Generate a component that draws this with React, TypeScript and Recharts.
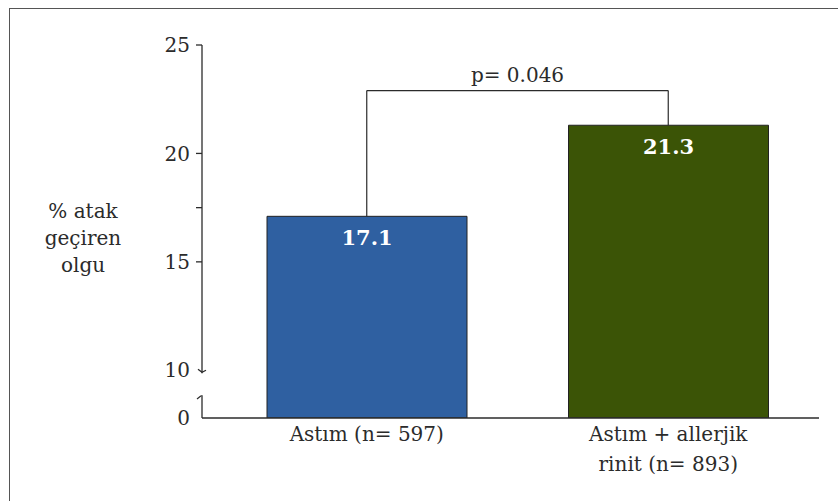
import { BarChart, Bar, XAxis, YAxis, Cell, LabelList, ReferenceLine } from 'recharts'

const categories = ['Astım (n= 597)', 'Astım + allerjik rinit (n= 893)']
const categoryLines = [['Astım (n= 597)'], ['Astım + allerjik', 'rinit (n= 893)']]
const attackRates = [17.1, 21.3]
const barColors = ['#2f60a1', '#3b5406']

// axis is broken below 10; the floor value is shown as "0"
const axisFloor = 7.8
const yTicks = [axisFloor, 10, 15, 17.5, 20, 25]
const yTickLabels = ['0', '10', '15', '', '20', '25']
const yTicksWithMark = [15, 17.5, 20, 25]
const yAxisTitle = ['% atak', 'geçiren', 'olgu']

const pValueLabel = 'p= 0.046'
const bracketTop = 22.9

const font = "'DejaVu Serif', serif"
const ink = '#2b2b2b'

const data = categories.map((name, i) => ({ name, value: attackRates[i] }))

function YTick(props: any) {
  const { x, y, payload, index } = props
  const v = payload.value
  const axisX = x + 12
  return (
    <g>
      {v === 10 && (
        <g>
          {/* gap in the axis line for the break */}
          <rect x={axisX - 4} y={y + 3} width={8} height={22} fill="#fff" />
          <path d={`M${axisX - 4},${y - 1} L${axisX},${y + 2} L${axisX + 4},${y}`} stroke={ink} fill="none" strokeWidth={1.3} />
        </g>
      )}
      {v === axisFloor && (
        <path d={`M${axisX - 5},${y - 19} L${axisX},${y - 23}`} stroke={ink} strokeWidth={1.3} />
      )}
      {yTicksWithMark.includes(v) && (
        <line x1={axisX - 6} y1={y} x2={axisX} y2={y} stroke={ink} strokeWidth={1.3} />
      )}
      <text x={x} y={y} dy="0.36em" textAnchor="end" fill={ink} fontSize={20} fontFamily={font}>
        {yTickLabels[index]}
      </text>
    </g>
  )
}

function XTick(props: any) {
  const { x, y, index } = props
  const lines = categoryLines[index] || []
  return (
    <text x={x} y={y} textAnchor="middle" fill={ink} fontSize={20} fontFamily={font}>
      {lines.map((line, i) => (
        <tspan key={i} x={x} dy={i === 0 ? '0.75em' : 30}>
          {line}
        </tspan>
      ))}
    </text>
  )
}

function YTitle(props: any) {
  const { viewBox } = props
  const cx = viewBox.x + 83
  return (
    <text x={cx} y={211} textAnchor="middle" fill={ink} fontSize={20} fontFamily={font}>
      {yAxisTitle.map((line, i) => (
        <tspan key={i} x={cx} dy={i === 0 ? '0.36em' : 27}>
          {line}
        </tspan>
      ))}
    </text>
  )
}

export default function App() {
  return (
    <div style={{ position: 'absolute', left: 0, top: 0, width: 838, height: 501, background: '#fff' }}>
      <div
        style={{
          position: 'absolute',
          left: 9,
          top: 8,
          width: 829,
          height: 493,
          borderTop: '1.5px solid #555',
          borderLeft: '1.5px solid #555',
        }}
      />
      <BarChart
        width={838}
        height={501}
        data={data}
        margin={{ top: 45, right: 19, bottom: 53, left: 0 }}
        style={{ position: 'absolute', left: 0, top: 0 }}
      >
        <XAxis
          dataKey="name"
          type="category"
          height={30}
          padding={{ left: 14, right: 0 }}
          tickLine={false}
          axisLine={{ stroke: ink, strokeWidth: 1.3 }}
          tick={<XTick />}
          interval={0}
        />
        <YAxis
          type="number"
          width={202}
          domain={[axisFloor, 25]}
          ticks={yTicks}
          interval={0}
          allowDataOverflow
          tickSize={6}
          tickMargin={6}
          tickLine={false}
          axisLine={{ stroke: ink, strokeWidth: 1.3 }}
          tick={<YTick />}
          label={{ content: <YTitle /> }}
        />
        <Bar dataKey="value" barSize={200} stroke="#222" strokeWidth={1} isAnimationActive={false}>
          {data.map((d, i) => (
            <Cell key={d.name} fill={barColors[i]} />
          ))}
          <LabelList
            dataKey="value"
            position="insideTop"
            offset={14}
            fill="#fff"
            fontSize={21}
            fontWeight="bold"
            fontFamily={font}
          />
        </Bar>
        <ReferenceLine
          segment={[
            { x: categories[0], y: attackRates[0] },
            { x: categories[0], y: bracketTop },
          ]}
          stroke={ink}
          strokeWidth={1.2}
        />
        <ReferenceLine
          segment={[
            { x: categories[0], y: bracketTop },
            { x: categories[1], y: bracketTop },
          ]}
          stroke={ink}
          strokeWidth={1.2}
          label={{ value: pValueLabel, position: 'top', offset: 9, fill: ink, fontSize: 20, fontFamily: font }}
        />
        <ReferenceLine
          segment={[
            { x: categories[1], y: bracketTop },
            { x: categories[1], y: attackRates[1] },
          ]}
          stroke={ink}
          strokeWidth={1.2}
        />
      </BarChart>
    </div>
  )
}
